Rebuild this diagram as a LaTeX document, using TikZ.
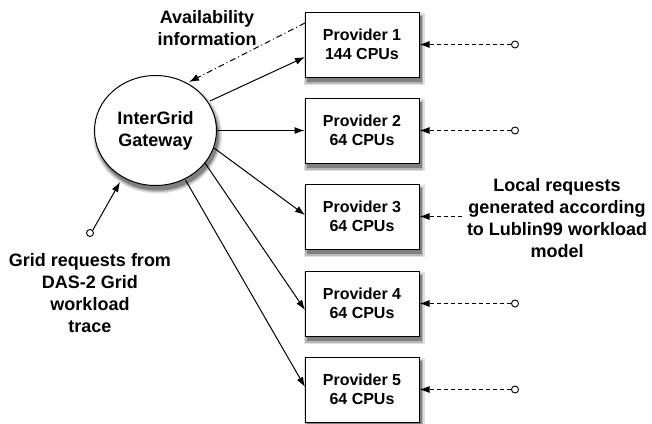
\documentclass[tikz,border=0pt]{standalone}
\usepackage{fontspec}
\setmainfont{Liberation Sans}
\usetikzlibrary{arrows.meta,shapes.geometric}
\begin{document}
\begin{tikzpicture}[x=1pt,y=-1pt,
  lbl/.style={font=\bfseries\fontsize{18}{22}\selectfont, align=center, inner sep=0pt},
  prov/.style={draw, line width=1pt, fill=white, minimum width=114pt, minimum height=65pt,
    align=center, inner sep=0pt, font=\bfseries\fontsize{16}{19.5}\selectfont},
  gw/.style={draw, ellipse, line width=1pt, fill=white, minimum width=122pt, minimum height=110pt,
    align=center, inner sep=0pt, font=\bfseries\fontsize{18}{22}\selectfont},
  arr/.style={line width=1pt, -{Latex[length=10pt,width=7pt]}},
  dsh/.style={arr, dash pattern=on 4pt off 3pt},
  dshdot/.style={arr, dash pattern=on 6pt off 3pt on 1pt off 3pt},
  src/.style={circle, draw, line width=0.9pt, fill=white, inner sep=0pt, minimum size=7pt}
]
\useasboundingbox (0,0) rectangle (652,423);

\coordinate (cg) at (155.5,130.5);
\coordinate (c1) at (362,44.5);
\coordinate (c2) at (362,130.5);
\coordinate (c3) at (362,216.5);
\coordinate (c4) at (362,303.5);
\coordinate (c5) at (362,389.5);

% soft drop shadows
\foreach \n in {c1,c2,c3,c4,c5}{
  \foreach \e/\c in {3.5/12,2/28,0.5/50}{
    \fill[black!\c] ([shift={(-57+2-\e,-32.5+4.5-\e)}]\n) rectangle ([shift={(57+2+\e,32.5+4.5+\e)}]\n);
  }
}
\foreach \e/\c in {3.5/12,2/28,0.5/50}{
  \fill[black!\c] ([shift={(2,4.5)}]cg) ellipse ({61+\e} and {55+\e});
}

\node[gw] (gw) at (cg) {InterGrid\\Gateway};

\node[prov] (p1) at (c1) {Provider 1\\144 CPUs};
\node[prov] (p2) at (c2) {Provider 2\\64 CPUs};
\node[prov] (p3) at (c3) {Provider 3\\64 CPUs};
\node[prov] (p4) at (c4) {Provider 4\\64 CPUs};
\node[prov] (p5) at (c5) {Provider 5\\64 CPUs};

% gateway to providers
\coordinate (g1) at (210,101);
\coordinate (g3) at (214,148);
\coordinate (g4) at (205,163);
\coordinate (g5) at (185.5,180);
\coordinate (t1) at (305,57);
\coordinate (t3) at (305,215);
\coordinate (t4) at (305,310);
\coordinate (t5) at (305,387);
\draw[arr] (g1) -- (t1);
\draw[arr] (gw.east) -- (p2.west);
\draw[arr] (g3) -- (t3);
\draw[arr] (g4) -- (t4);
\draw[arr] (g5) -- (t5);

% availability information
\coordinate (a1) at (305,23);
\coordinate (a2) at (189,82);
\draw[dshdot] (a1) -- (a2);
\node[lbl] (avail) at (207,28) {Availability\\information};

% local requests
\node[src] (s1) at (515,44.5) {};
\node[src] (s2) at (515,130.5) {};
\node[src] (s4) at (515,303.5) {};
\node[src] (s5) at (515,389.5) {};
\draw[dsh] (s1.west) -- (p1.east);
\draw[dsh] (s2.west) -- (p2.east);
\draw[dsh] (s4.west) -- (p4.east);
\draw[dsh] (s5.west) -- (p5.east);
\node[lbl] (local) at (557,218.5) {Local requests\\generated according\\to Lublin99 workload\\model};
\coordinate (l3) at (462,216.5);
\draw[dsh] (l3) -- (p3.east);

% grid requests
\node[src] (sg) at (90,233) {};
\coordinate (gin) at (120,182);
\draw[arr] (sg.north east) -- (gin);
\node[lbl] (grid) at (90,293) {Grid requests from\\DAS-2 Grid\\workload\\trace};
\end{tikzpicture}
\end{document}
